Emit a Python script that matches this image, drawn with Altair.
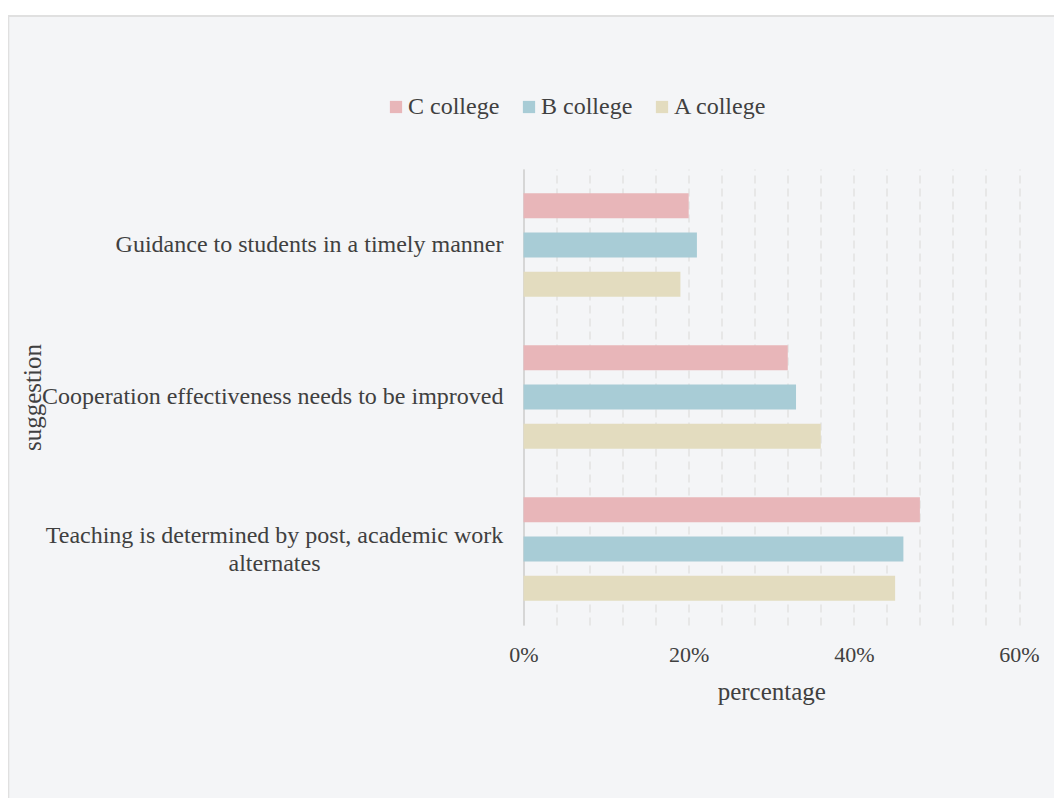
import altair as alt
import pandas as pd
import json

suggestions = [
    "Guidance to students in a timely manner",
    "Cooperation effectiveness needs to be improved",
    "Teaching is determined by post, academic work alternates",
]
wrapped_label = ["Teaching is determined by post, academic work", "alternates"]
colleges = ["C college", "B college", "A college"]
c_vals = [20, 32, 48]
b_vals = [21, 33, 46]
a_vals = [19, 36, 45]
colors = ["#E8B6B9", "#A8CCD6", "#E3DCBF"]
x_ticks = list(range(0, 61, 4))

rows = []
for college, vals in zip(colleges, [c_vals, b_vals, a_vals]):
    for s, v in zip(suggestions, vals):
        rows.append({"suggestion": s, "college": college, "percentage": v})
df = pd.DataFrame(rows)

FONT = "Liberation Serif"
TXT = "#404040"
PL, PT, W, H = 515.5, 161, 495.5, 456
TOTAL_H = 790

long_label = suggestions[2]
test_long = f"datum.value == {json.dumps(long_label)}"
label_expr = f"{test_long} ? {json.dumps(wrapped_label)} : datum.label"

bars = alt.Chart(df).mark_bar().encode(
    x=alt.X("percentage:Q",
            scale=alt.Scale(domain=[0, 60], nice=False),
            axis=alt.Axis(values=x_ticks,
                          labelExpr="datum.value % 20 == 0 ? datum.value + '%' : ''",
                          grid=True, gridDash=[8, 5], gridColor="#E2E2E2", gridWidth=1.5,
                          domain=False, ticks=False, labelFlush=False, labelOverlap=False,
                          labelFont=FONT, labelFontSize=22, labelColor=TXT,
                          labelPadding=19,
                          title="percentage", titleFont=FONT, titleFontSize=25,
                          titleFontWeight="normal", titleColor=TXT, titlePadding=14)),
    y=alt.Y("suggestion:N", sort=suggestions,
            scale=alt.Scale(paddingInner=0, paddingOuter=0),
            axis=alt.Axis(grid=False, ticks=False, domain=True,
                          domainColor="#D6D6D6", domainWidth=2,
                          labelFont=FONT, labelFontSize=24, labelColor=TXT,
                          labelLimit=1000, labelLineHeight=28,
                          labelExpr=label_expr,
                          labelAlign={"condition": {"test": test_long, "value": "center"}, "value": "right"},
                          labelPadding={"condition": {"test": test_long, "value": 249.5}, "value": 20.5},
                          labelOffset={"condition": {"test": test_long, "value": -13}, "value": 0},
                          title="suggestion", titleFont=FONT, titleFontSize=25,
                          titleFontWeight="normal", titleColor=TXT,
                          titleAngle=270, titleAlign="center", titleBaseline="middle",
                          titleX=32 - 523.5, titleY=H / 2)),
    yOffset=alt.YOffset("college:N", sort=colleges,
                        scale=alt.Scale(paddingInner=0.364, paddingOuter=0.616)),
    color=alt.Color("college:N", sort=colleges,
                    scale=alt.Scale(domain=colleges, range=colors),
                    legend=alt.Legend(title=None, orient="none", direction="horizontal",
                                      legendX=384 - 523.5, legendY=95 - 169,
                                      symbolType="square", symbolSize=150,
                                      symbolStrokeWidth=0, symbolOpacity=1,
                                      labelFont=FONT, labelFontSize=24, labelColor=TXT,
                                      labelOffset=0, columnPadding=17, padding=0)),
)

deco = alt.Data(values=[{"k": 1}])
white_strip = alt.Chart(deco).mark_rule(color="white", strokeWidth=7).encode(
    x=alt.value(-PL - 2), x2=alt.value(W + 200), y=alt.value(-PT + 3.5))
top_border = alt.Chart(deco).mark_rule(color="#E0E0E0", strokeWidth=2).encode(
    x=alt.value(-PL), x2=alt.value(W + 200), y=alt.value(-PT + 8))
left_border = alt.Chart(deco).mark_rule(color="#E0E0E0", strokeWidth=2).encode(
    x=alt.value(-PL + 0.3), y=alt.value(-PT + 7), y2=alt.value(H + 400))

chart = alt.layer(bars, white_strip, top_border, left_border).properties(
    width=W, height=H,
    autosize=alt.AutoSizeParams(type="none"),
    padding={"left": PL, "top": PT, "right": 1046 - PL - W, "bottom": TOTAL_H - PT - H},
    background="#F4F5F7",
).configure_view(stroke=None)

chart.save("out.html", embed_options={"renderer": "svg", "actions": False})
